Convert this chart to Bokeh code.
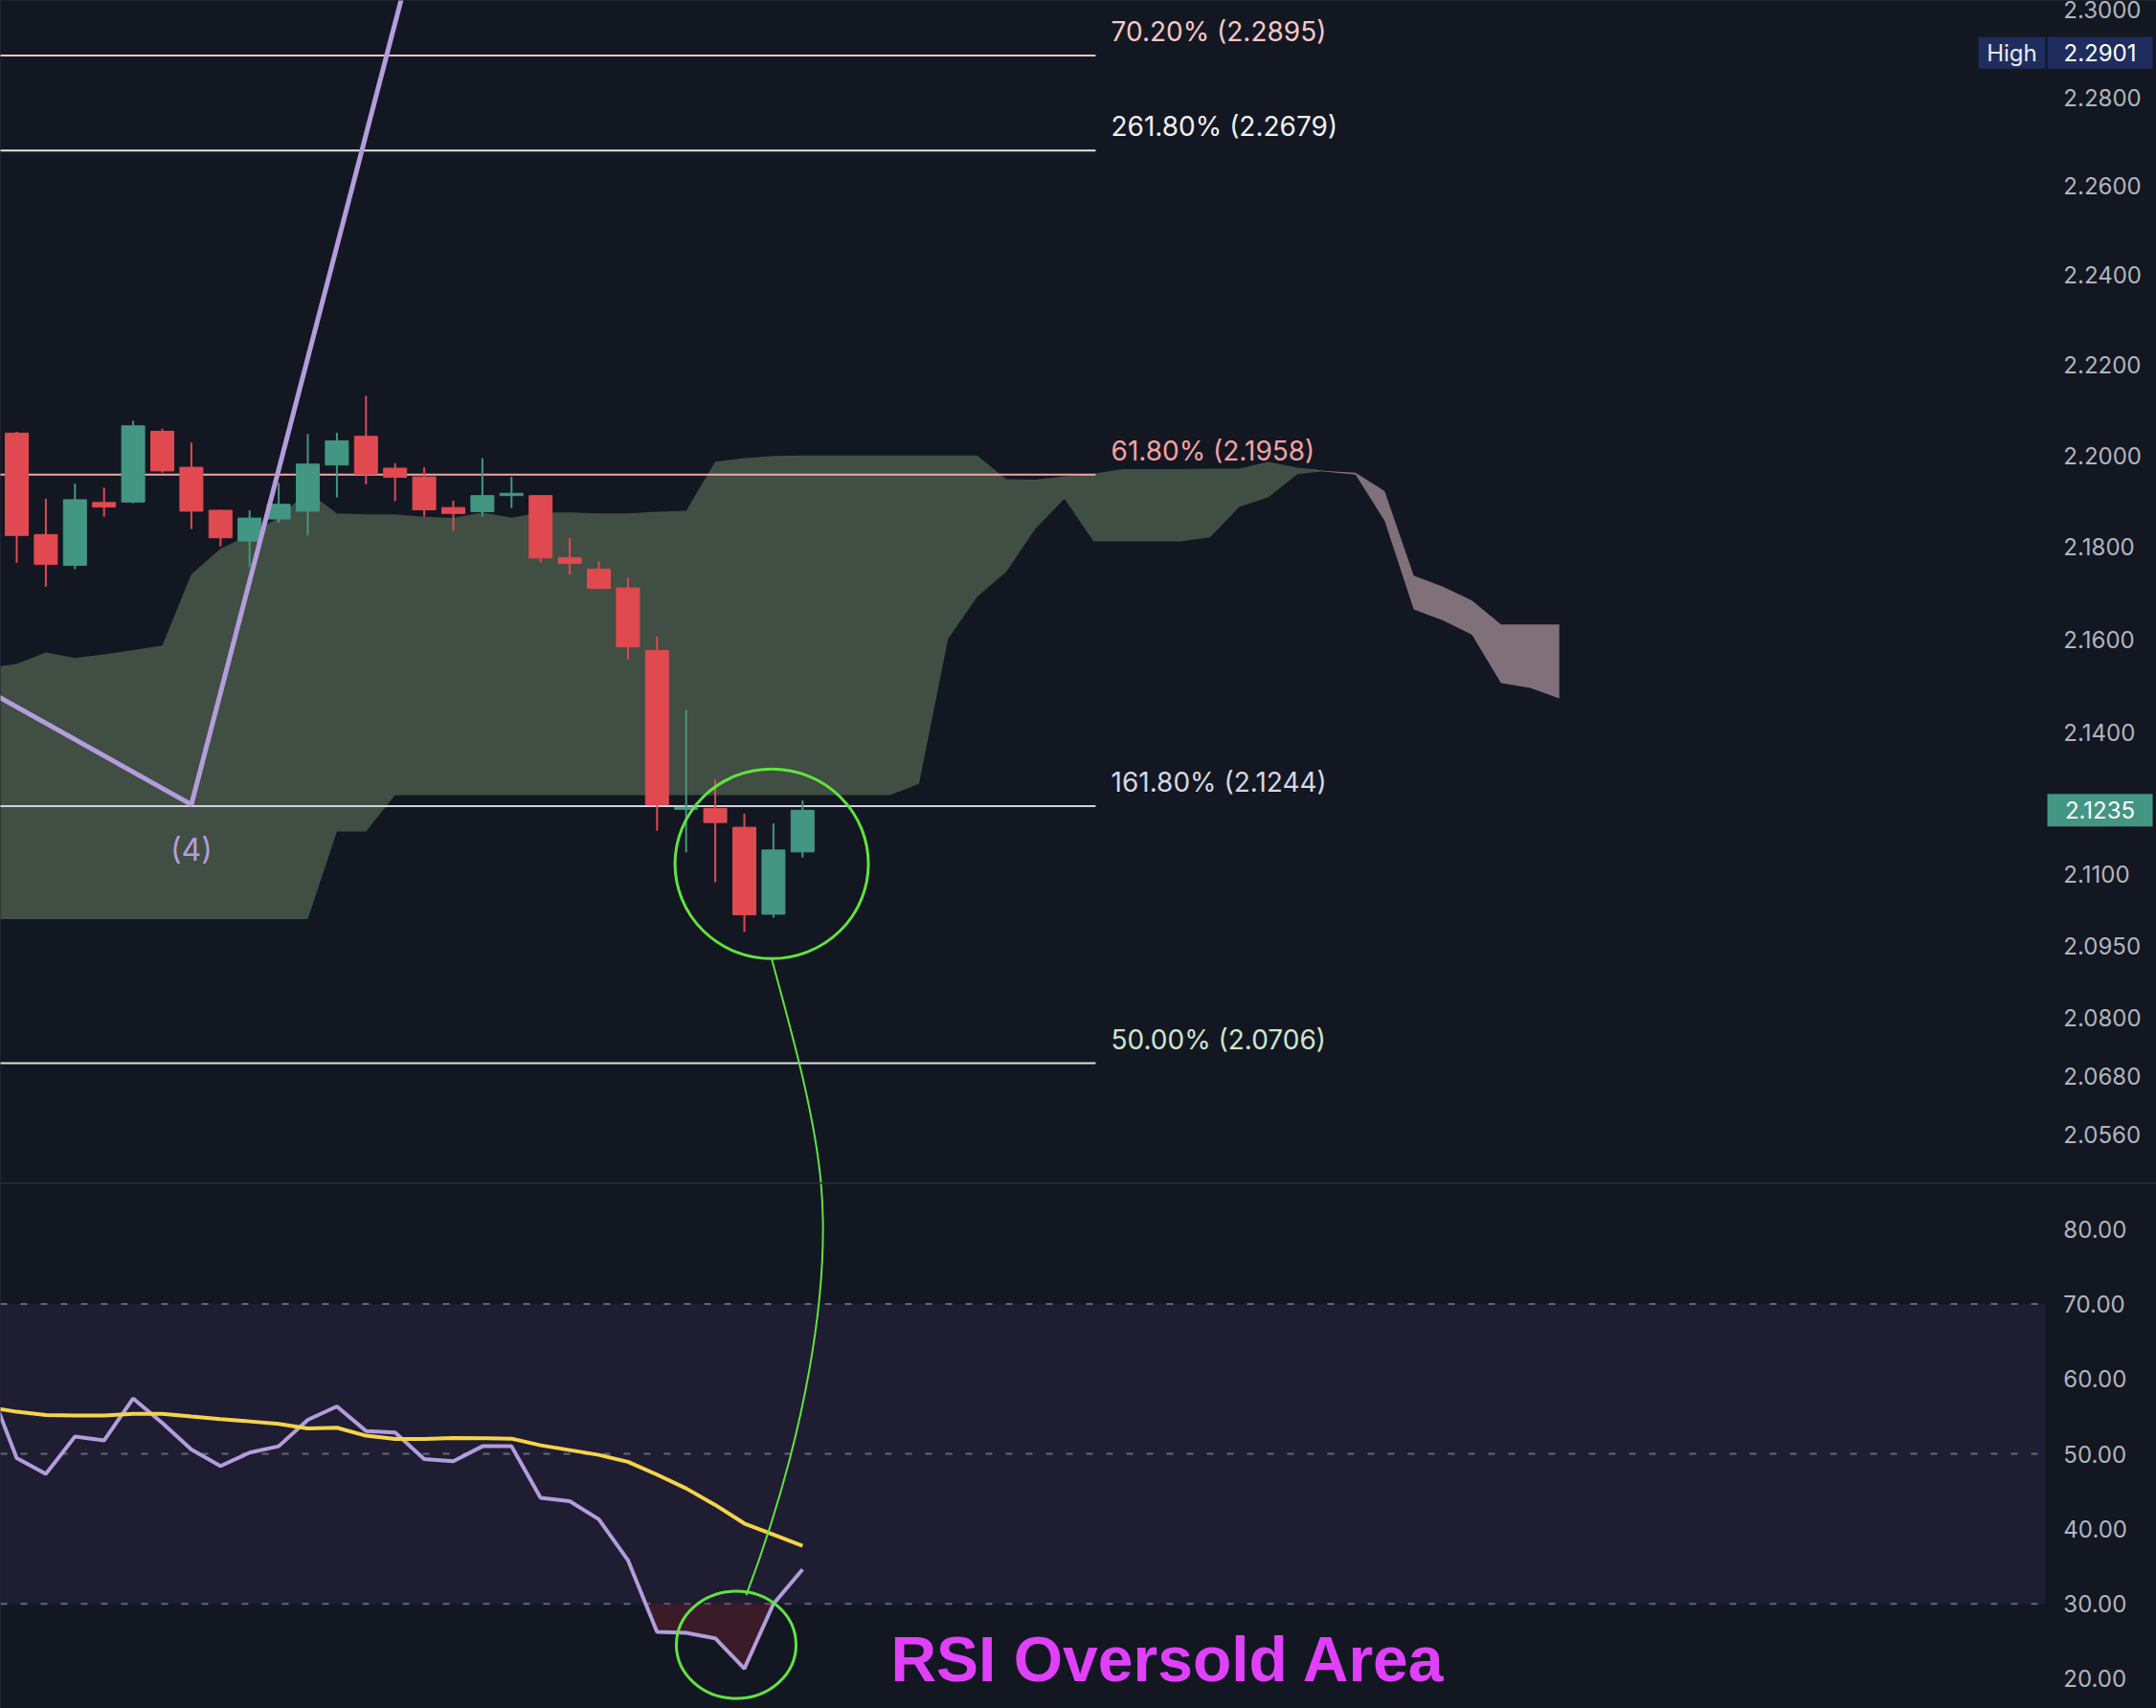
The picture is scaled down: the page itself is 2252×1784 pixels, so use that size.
import numpy as np
from bokeh.plotting import figure
from bokeh.layouts import column
from bokeh.models import Range1d, FixedTicker, PrintfTickFormatter, BoxAnnotation
from bokeh.core.properties import value
from bokeh.embed import file_html
from bokeh.resources import INLINE

# ---------------- data ----------------
CANDLE_IDX = list(range(28))
OPEN  = [2.2049, 2.1827, 2.1760, 2.1897, 2.1898, 2.2053, 2.1974, 2.1880, 2.1813, 2.1861,
         2.1878, 2.1979, 2.2042, 2.1972, 2.1953, 2.1886, 2.1877, 2.1912, 2.1912, 2.1777,
         2.1752, 2.1711, 2.1576, 2.1237, 2.1239, 2.1199, 2.1016, 2.1147]
HIGH  = [2.2052, 2.1905, 2.1938, 2.1929, 2.2076, 2.2059, 2.2028, 2.1881, 2.1880, 2.1940,
         2.2047, 2.2050, 2.2131, 2.1983, 2.1974, 2.1901, 2.1994, 2.1953, 2.1913, 2.1819,
         2.1769, 2.1733, 2.1606, 2.1449, 2.1300, 2.1228, 2.1207, 2.1256]
LOW   = [2.1766, 2.1714, 2.1752, 2.1866, 2.1895, 2.1962, 2.1839, 2.1801, 2.1756, 2.1853,
         2.1825, 2.1908, 2.1937, 2.1900, 2.1866, 2.1835, 2.1866, 2.1885, 2.1766, 2.1740,
         2.1709, 2.1557, 2.1192, 2.1146, 2.1083, 2.0979, 2.1009, 2.1135]
CLOSE = [2.1825, 2.1762, 2.1903, 2.1887, 2.2065, 2.1966, 2.1878, 2.1820, 2.1863, 2.1893,
         2.1981, 2.2032, 2.1959, 2.1952, 2.1881, 2.1873, 2.1912, 2.1917, 2.1776, 2.1764,
         2.1710, 2.1584, 2.1247, 2.1241, 2.1209, 2.1015, 2.1151, 2.1235]

CLOUD_IDX = list(range(-1, 54))
SPAN_A = [2.1539, 2.1547, 2.1572, 2.1560, 2.1568, 2.1577, 2.1587, 2.1741, 2.1796, 2.1827,
          2.1864, 2.1921, 2.1873, 2.1871, 2.1871, 2.1866, 2.1863, 2.1875, 2.1864, 2.1875,
          2.1875, 2.1873, 2.1873, 2.1877, 2.1879, 2.1986, 2.1994, 2.1999, 2.2000, 2.2000,
          2.2000, 2.2000, 2.2000, 2.2000, 2.2000, 2.1948, 2.1947, 2.1954, 2.1960, 2.1970,
          2.1970, 2.1970, 2.1971, 2.1971, 2.1986, 2.1973, 2.1964, 2.1958, 2.1857, 2.1665,
          2.1641, 2.1610, 2.1506, 2.1496, 2.1473]
SPAN_B = [2.1006, 2.1006, 2.1006, 2.1006, 2.1006, 2.1006, 2.1006, 2.1006, 2.1006, 2.1006,
          2.1006, 2.1006, 2.1190, 2.1190, 2.1267, 2.1267, 2.1267, 2.1267, 2.1267, 2.1267,
          2.1267, 2.1267, 2.1267, 2.1267, 2.1267, 2.1267, 2.1267, 2.1267, 2.1267, 2.1267,
          2.1267, 2.1267, 2.1291, 2.1601, 2.1692, 2.1746, 2.1840, 2.1905, 2.1812, 2.1812,
          2.1812, 2.1812, 2.1821, 2.1887, 2.1908, 2.1959, 2.1966, 2.1962, 2.1922, 2.1738,
          2.1714, 2.1684, 2.1632, 2.1632, 2.1632]

FIB_LEVELS = [2.2895, 2.2679, 2.1958, 2.1244, 2.0706]
FIB_TEXT = ["70.20% (2.2895)", "261.80% (2.2679)", "61.80% (2.1958)",
            "161.80% (2.1244)", "50.00% (2.0706)"]
FIB_START, FIB_END, FIB_LABEL_X = -1.0, 37.07, 37.6

WAVE_IDX = [-4, 6, 16]
WAVE_PRICE = [2.1595, 2.1247, 2.375]
WAVE_LABEL = "(4)"

RSI_IDX = list(range(-1, 28))
RSI = [59.5, 49.45, 47.32, 52.30, 51.79, 57.40, 54.13, 50.60, 48.38, 50.17,
       51.02, 54.55, 56.34, 53.06, 52.85, 49.32, 49.02, 51.02, 51.02, 44.13,
       43.70, 41.28, 35.83, 26.26, 26.13, 25.40, 21.36, 30.0, 34.6]
RSI_MA = [56.26, 55.62, 55.19, 55.11, 55.11, 55.36, 55.36, 54.98, 54.64, 54.34,
          54.0, 53.4, 53.49, 52.43, 52.0, 52.0, 52.13, 52.09, 52.04, 51.15,
          50.51, 49.87, 48.94, 47.23, 45.4, 43.19, 40.72, 39.23, 37.74]
RSI_LEVELS = [70, 50, 30]

PRICE_TICKS = [2.3, 2.28, 2.26, 2.24, 2.22, 2.2, 2.18, 2.16, 2.14, 2.11, 2.095, 2.08, 2.068, 2.056]
RSI_TICKS = [20, 30, 40, 50, 60, 70, 80]
HIGH_VALUE = 2.2901

X_RANGE = (-0.559, 73.52)
AXIS_X = 69.70
PRICE_RANGE = (2.04604, 2.30212)
RSI_RANGE = (16.04, 86.03)

# annotation anchors (index, value)
PRICE_RING = dict(x=25.94, y=2.11219, w=202, h=198)
RSI_RING = dict(x=24.72, y=24.53, w=125, h=112)
LINK_TOP = dict(x0=25.941, y0=2.09227, cx0=26.467, cy0=2.08016, cx1=27.395, cy1=2.06157, x1=27.632, y1=2.04604)
LINK_BOT = dict(x0=27.632, y0=86.16, cx0=27.961, cy0=72.11, cx1=27.099, cy1=52.12, x1=25.066, y1=31.15)
OVERSOLD_TEXT = dict(x=30.03, y=22.6, text="RSI Oversold Area")
TAG_X, HIGH_WORD_X = 71.58, 68.55

# ---------------- style ----------------
BG = "#131722"
UP, DOWN = "#439682", "#e04950"
CLOUD_UP, CLOUD_DOWN = "#414e43", "#80707a"
LAV = "#b39ddb"
GREEN = "#62e33f"
NAVY = "#1e2d5e"
FIB_LINE_COLORS = ["#f0c4c4", "#e6e6e6", "#f1a7a7", "#d1d4dc", "#e0e0e0"]
FIB_TEXT_COLORS = ["#f5c9c6", "#f0f0f0", "#f4a3a0", "#d6d8e2", "#cde6cd"]
W = 2252


def style_axis(ax, ticks, fmt):
    ax.ticker = FixedTicker(ticks=ticks, minor_ticks=[])
    ax.formatter = PrintfTickFormatter(format=fmt)
    ax.fixed_location = AXIS_X
    ax.axis_line_color = None
    ax.major_tick_line_color = None
    ax.minor_tick_line_color = None
    ax.major_tick_out = 0
    ax.major_tick_in = 0
    ax.major_label_standoff = 19
    ax.major_label_text_color = "#b2b5be"
    ax.major_label_text_font = "Inter"
    ax.major_label_text_font_size = "24px"


# ---------------- price pane ----------------
p1 = figure(width=W, height=1235, y_axis_type="log",
            x_range=Range1d(*X_RANGE), y_range=Range1d(*PRICE_RANGE),
            output_backend="svg", toolbar_location=None,
            y_axis_location="right", x_axis_location=None, min_border=0,
            background_fill_color=BG, border_fill_color=BG, outline_line_color=None)
p1.grid.visible = False
style_axis(p1.yaxis[0], PRICE_TICKS, "%.4f")

a = np.array(SPAN_A)
b = np.array(SPAN_B)
top = np.maximum(a, b)
p1.varea(x=CLOUD_IDX, y1=b, y2=top, fill_color=CLOUD_UP, fill_alpha=1)
p1.varea(x=CLOUD_IDX, y1=a, y2=top, fill_color=CLOUD_DOWN, fill_alpha=1)

p1.segment(x0=[FIB_START] * len(FIB_LEVELS), x1=[FIB_END] * len(FIB_LEVELS),
           y0=FIB_LEVELS, y1=FIB_LEVELS, line_color=FIB_LINE_COLORS, line_width=2)
p1.text(x=[FIB_LABEL_X] * len(FIB_LEVELS), y=FIB_LEVELS, text=FIB_TEXT,
        text_color=FIB_TEXT_COLORS, text_font=value("Inter"), text_font_size="28px",
        text_baseline="middle", text_align="left", y_offset=-25)

o = np.array(OPEN); c = np.array(CLOSE)
colors = [UP if cc >= oo else DOWN for oo, cc in zip(OPEN, CLOSE)]
p1.segment(x0=CANDLE_IDX, x1=CANDLE_IDX, y0=LOW, y1=HIGH, line_color=colors, line_width=2)
p1.vbar(x=CANDLE_IDX, top=np.maximum(o, c), bottom=np.minimum(o, c), width=0.79,
        fill_color=colors, line_color=colors, line_width=1)

p1.line(x=WAVE_IDX, y=WAVE_PRICE, line_color=LAV, line_width=5)
p1.text(x=[WAVE_IDX[1]], y=[WAVE_PRICE[1]], text=[WAVE_LABEL], text_color=LAV,
        text_font=value("Inter"), text_font_size="32px", text_align="center",
        text_baseline="middle", y_offset=47)

p1.ellipse(x=[PRICE_RING["x"]], y=[PRICE_RING["y"]], width=[PRICE_RING["w"]], height=[PRICE_RING["h"]],
           width_units="screen", height_units="screen", fill_color=None,
           line_color=GREEN, line_width=3)
p1.bezier(x0=[LINK_TOP["x0"]], y0=[LINK_TOP["y0"]], x1=[LINK_TOP["x1"]], y1=[LINK_TOP["y1"]],
          cx0=[LINK_TOP["cx0"]], cy0=[LINK_TOP["cy0"]], cx1=[LINK_TOP["cx1"]], cy1=[LINK_TOP["cy1"]],
          line_color=GREEN, line_width=2)

# price tags (High / last price)
p1.rect(x=[HIGH_WORD_X, TAG_X, TAG_X], y=[HIGH_VALUE, HIGH_VALUE, CLOSE[-1]],
        width=[70, 110, 110], height=[33, 33, 34], width_units="screen", height_units="screen",
        fill_color=[NAVY, NAVY, UP], line_color=None)
p1.text(x=[HIGH_WORD_X, TAG_X, TAG_X], y=[HIGH_VALUE, HIGH_VALUE, CLOSE[-1]],
        text=["High", f"{HIGH_VALUE:.4f}", f"{CLOSE[-1]:.4f}"],
        text_color=["#e8eaf0", "#ffffff", "#ffffff"], text_font=value("Inter"),
        text_font_size="24px", text_align="center", text_baseline="middle")

# ---------------- RSI pane ----------------
p2 = figure(width=W, height=548, x_range=p1.x_range, y_range=Range1d(*RSI_RANGE),
            output_backend="svg", toolbar_location=None,
            y_axis_location="right", x_axis_location=None, min_border=0,
            background_fill_color=BG, border_fill_color=BG, outline_line_color=None)
p2.grid.visible = False
style_axis(p2.yaxis[0], RSI_TICKS, "%.2f")

p2.add_layout(BoxAnnotation(bottom=min(RSI_LEVELS), top=max(RSI_LEVELS), right=AXIS_X,
                            fill_color="#7e57c2", fill_alpha=0.1, line_color=None, level="underlay"))
p2.segment(x0=[X_RANGE[0]] * 3, x1=[AXIS_X] * 3, y0=RSI_LEVELS, y1=RSI_LEVELS,
           line_color="#787b86", line_alpha=0.8, line_width=2, line_dash="7 14")

rx = np.array(RSI_IDX, float); ry = np.array(RSI, float)
lo = min(RSI_LEVELS)
fx, fy = [], []
for k in range(len(rx) - 1):
    x0, y0, x1, y1 = rx[k], ry[k], rx[k + 1], ry[k + 1]
    fx.append(x0); fy.append(min(y0, lo))
    if (y0 - lo) * (y1 - lo) < 0:
        t = (lo - y0) / (y1 - y0)
        fx.append(x0 + t * (x1 - x0)); fy.append(lo)
fx.append(rx[-1]); fy.append(min(ry[-1], lo))
p2.varea(x=fx, y1=[lo] * len(fx), y2=fy, fill_color="#6b2230", fill_alpha=0.45)

p2.line(x=RSI_IDX, y=RSI, line_color=LAV, line_width=4)
p2.line(x=RSI_IDX, y=RSI_MA, line_color="#f6d44a", line_width=4)

p2.ellipse(x=[RSI_RING["x"]], y=[RSI_RING["y"]], width=[RSI_RING["w"]], height=[RSI_RING["h"]],
           width_units="screen", height_units="screen", fill_color=None,
           line_color=GREEN, line_width=3)
p2.bezier(x0=[LINK_BOT["x0"]], y0=[LINK_BOT["y0"]], x1=[LINK_BOT["x1"]], y1=[LINK_BOT["y1"]],
          cx0=[LINK_BOT["cx0"]], cy0=[LINK_BOT["cy0"]], cx1=[LINK_BOT["cx1"]], cy1=[LINK_BOT["cy1"]],
          line_color=GREEN, line_width=2)
p2.text(x=[OVERSOLD_TEXT["x"]], y=[OVERSOLD_TEXT["y"]], text=[OVERSOLD_TEXT["text"]],
        text_color="#e040fb", text_font=value("Liberation Sans"), text_font_style="bold",
        text_font_size="66px", text_align="left", text_baseline="alphabetic")

layout = column(p1, p2, spacing=1, styles={"background-color": "#2a2e39"})

open("out.html", "w").write(file_html(layout, INLINE))
